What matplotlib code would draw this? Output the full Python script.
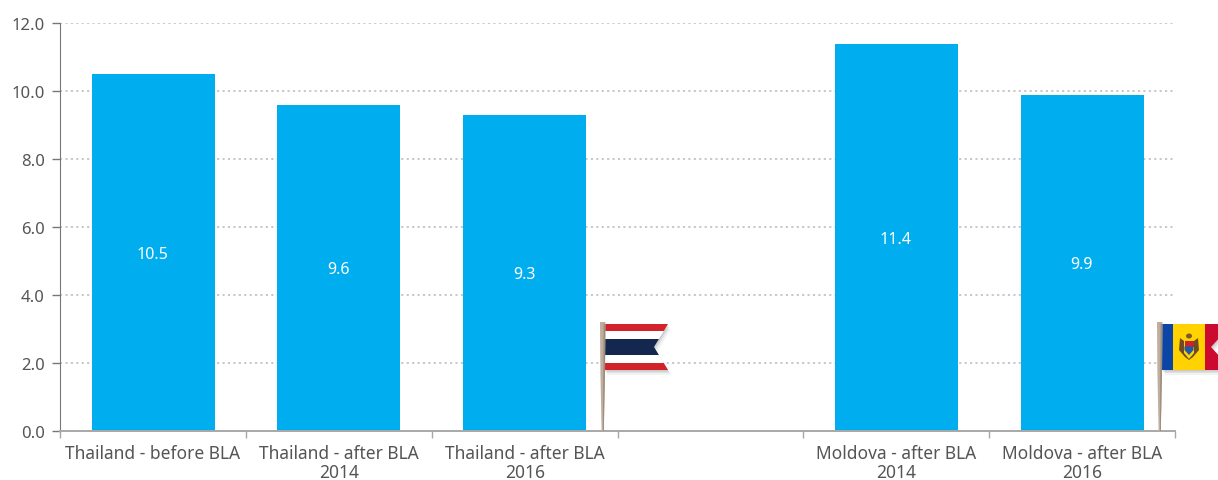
import numpy as np
import matplotlib
matplotlib.use("Agg")
import matplotlib.pyplot as plt
from matplotlib.patches import Rectangle, Polygon, Ellipse

categories = ["Thailand - before BLA", "Thailand - after BLA\n2014", "Thailand - after BLA\n2016",
              "", "Moldova - after BLA\n2014", "Moldova - after BLA\n2016"]
values = [10.5, 9.6, 9.3, np.nan, 11.4, 9.9]
value_labels = ["10.5", "9.6", "9.3", "", "11.4", "9.9"]
yticks = [0, 2, 4, 6, 8, 10, 12]

plt.rcParams['font.family'] = ['Noto Sans', 'DejaVu Sans']
W, H = 1218, 481
fig = plt.figure(figsize=(W / 100, H / 100), dpi=100)
ax = fig.add_axes([60.1 / W, 1 - 432.4 / H, 1115 / W, 408 / H])

pos = np.arange(len(categories)) + 0.5
ax.bar(pos, values, width=0.662, color="#00AEEF", zorder=3)
for x, v, s in zip(pos, values, value_labels):
    if s:
        ax.annotate(s, (x, v / 2), xytext=(-0.5, -0.8), textcoords="offset points",
                    color="white", ha="center", va="center", fontsize=11.5, zorder=4)

ax.set_xlim(0, len(categories))
ax.set_ylim(0, 12)
ax.set_yticks(yticks)
ax.set_yticklabels([f"{t:.1f}" for t in yticks], fontsize=12, color="#555555")
ax.set_xticks(np.arange(len(categories) + 1))
ax.set_xticklabels([])
ax.set_xticks(pos, minor=True)
ax.set_xticklabels(categories, minor=True, fontsize=12.5, color="#555555", linespacing=1.1)
ax.tick_params(axis="x", which="major", length=5, color="#A8A8A8", width=1)
ax.tick_params(axis="x", which="minor", length=0, pad=9)
ax.tick_params(axis="y", length=6, color="#777777", width=1, pad=5)
ax.yaxis.grid(True, linestyle=(0, (1.2, 1.8)), color="#C4C4C4", linewidth=1.3, zorder=1)
ax.set_axisbelow(True)
for s in ("top", "right"):
    ax.spines[s].set_visible(False)
ax.spines["left"].set_color("#777777")
ax.spines["bottom"].set_color("#A8A8A8")
ax.spines["bottom"].set_linewidth(1.4)
ax.spines["bottom"].set_zorder(5)
# the grid has no line along the baseline
ax.yaxis.get_gridlines()[0].set_visible(False)

# Decorative flags drawn in pixel space
ov = fig.add_axes([0, 0, 1, 1], facecolor="none", zorder=10)
ov.set_xlim(0, W)
ov.set_ylim(H, 0)
ov.axis("off")


def pole(x0):
    ov.add_patch(Polygon([(x0, 323), (x0 + 5.5, 323), (x0 + 5, 372), (x0 + 3.8, 432), (x0 + 1.6, 432), (x0 + 0.4, 372)],
                         closed=True, facecolor="#BFAE9E", edgecolor="none", zorder=5))
    ov.add_patch(Polygon([(x0 + 3.6, 325), (x0 + 5.4, 325), (x0 + 5, 372), (x0 + 3.8, 432), (x0 + 3, 432)],
                         closed=True, facecolor="#9C8B7C", edgecolor="none", zorder=6))


def shadow(pts):
    for d, a in ((5, 0.05), (3, 0.07), (1.5, 0.09)):
        ov.add_patch(Polygon([(x + d * 0.6, y + d) for x, y in pts], closed=True,
                             facecolor="black", alpha=a, edgecolor="none", zorder=1))


# Thailand
th = [(604, 325), (668, 325), (654, 348), (668, 371), (604, 371)]
shadow(th)
clip_th = Polygon(th, closed=True, facecolor="none", edgecolor="none", zorder=2)
ov.add_patch(clip_th)
for y0, y1, c in ((325, 332, "#D2232A"), (332, 340, "#FFFFFF"), (340, 356, "#14284F"),
                  (356, 364, "#FFFFFF"), (364, 371, "#D2232A")):
    r = Rectangle((604, y0), 70, y1 - y0, facecolor=c, edgecolor="none", zorder=3)
    ov.add_patch(r)
    r.set_clip_path(clip_th)
pole(600)

# Moldova
md = [(1162, 325), (1232, 325), (1211, 348), (1232, 371), (1162, 371)]
shadow(md)
clip_md = Polygon(md, closed=True, facecolor="none", edgecolor="none", zorder=2)
ov.add_patch(clip_md)
for x0, x1, c in ((1162, 1173, "#0B45A5"), (1173, 1205, "#FFD200"), (1205, 1240, "#CC092F")):
    r = Rectangle((x0, 325), x1 - x0, 46, facecolor=c, edgecolor="none", zorder=3)
    ov.add_patch(r)
    r.set_clip_path(clip_md)
ov.add_patch(Polygon([(1180, 339), (1184, 342), (1184, 354), (1189, 360), (1194, 354), (1194, 342), (1198, 339),
                      (1199, 351), (1193, 358), (1189, 361), (1185, 358), (1179, 351)],
                     closed=True, facecolor="#6E4B22", edgecolor="none", zorder=4))
ov.add_patch(Ellipse((1189, 337), 6, 5, facecolor="#7A5A2A", edgecolor="none", zorder=4))
ov.add_patch(Rectangle((1184.5, 342), 9, 5.5, facecolor="#C8242B", edgecolor="none", zorder=5))
ov.add_patch(Polygon([(1184.5, 347.5), (1193.5, 347.5), (1193.5, 351), (1189, 356), (1184.5, 351)],
                     closed=True, facecolor="#1F5AA8", edgecolor="none", zorder=5))
pole(1157)

fig.savefig("out.png", dpi=100)
